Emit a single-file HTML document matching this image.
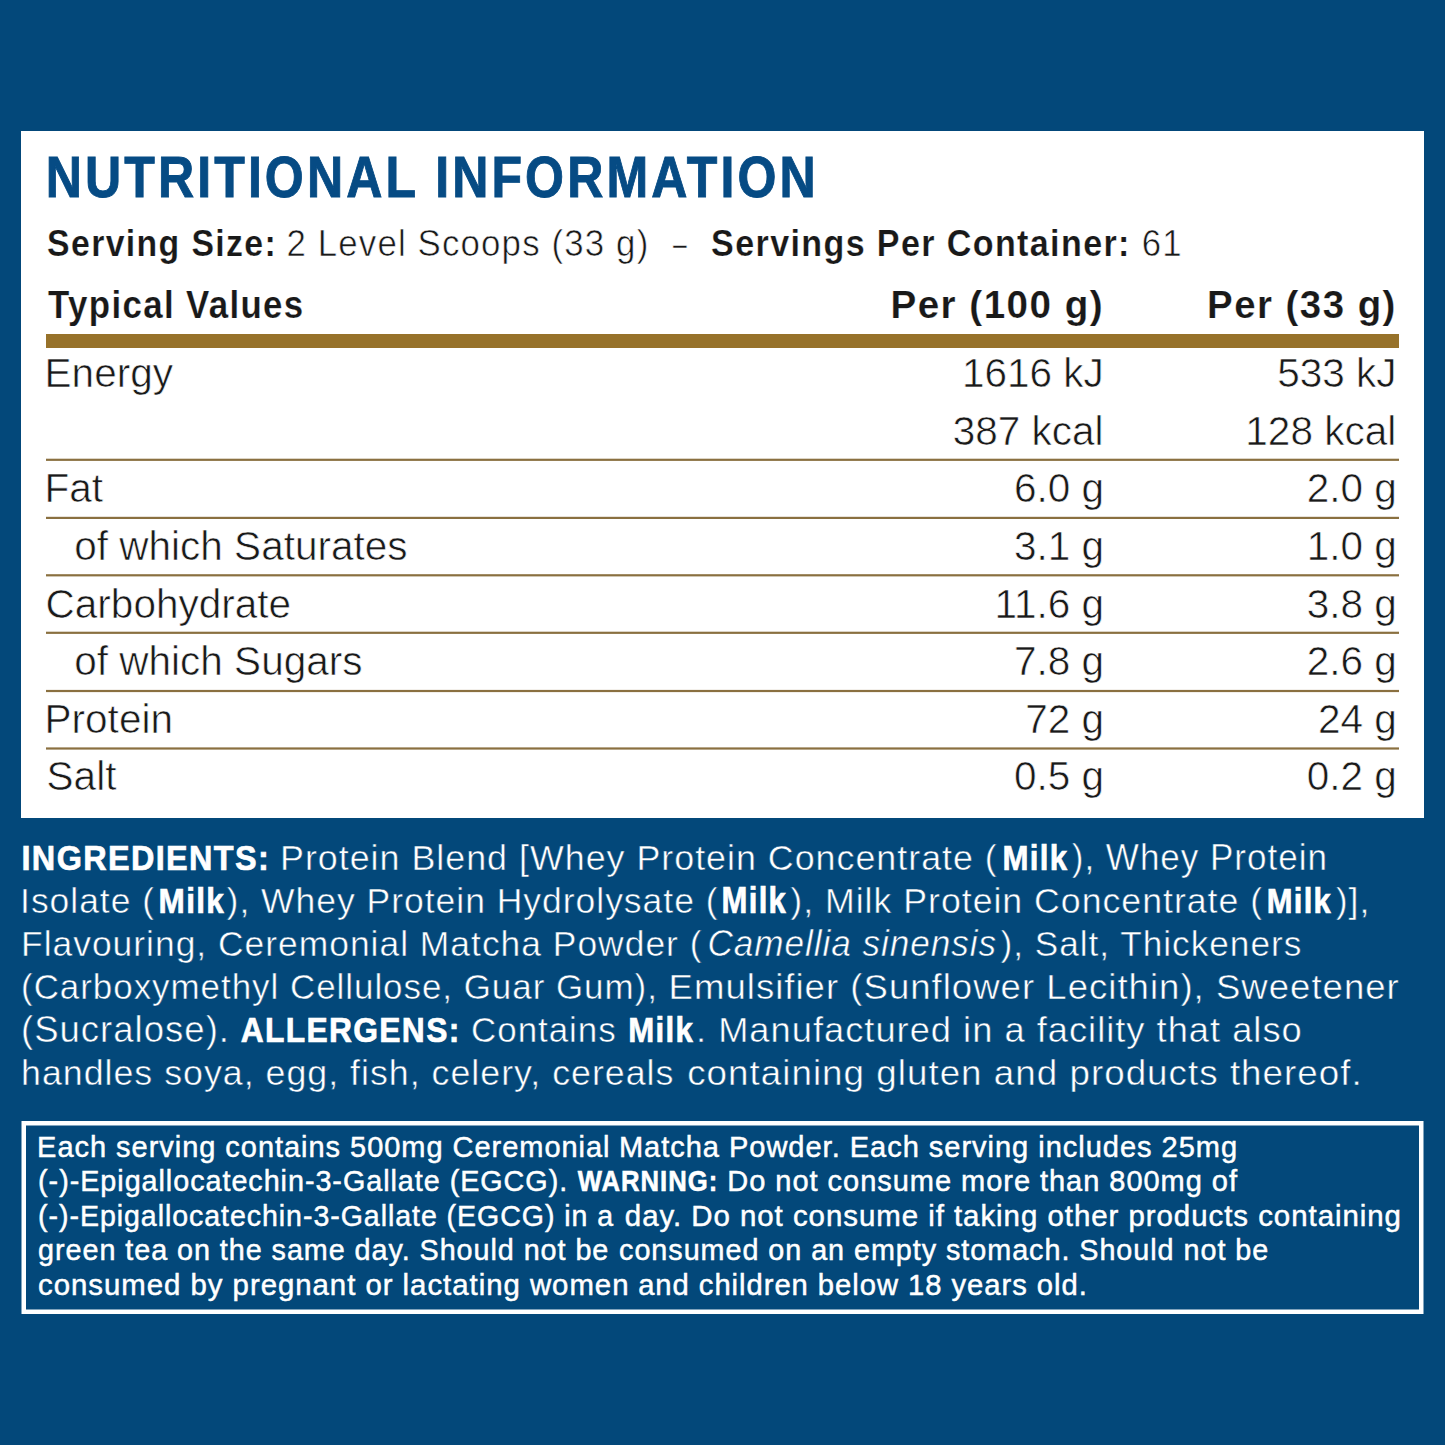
<!DOCTYPE html>
<html><head><meta charset="utf-8"><title>Nutritional Information</title>
<style>html,body{margin:0;padding:0;background:#03487a;width:1445px;height:1445px;overflow:hidden}</style>
</head><body>
<svg width="1445" height="1445" viewBox="0 0 1445 1445" style="display:block">
<rect width="1445" height="1445" fill="#03487a"/>
<rect x="21" y="131" width="1403" height="687" fill="#ffffff"/>
<rect x="46" y="334" width="1353" height="14" fill="#97722a"/>
<rect x="46" y="458.70" width="1353" height="2.2" fill="#8a7040"/>
<rect x="46" y="516.80" width="1353" height="2.2" fill="#8a7040"/>
<rect x="46" y="574.20" width="1353" height="2.2" fill="#8a7040"/>
<rect x="46" y="631.70" width="1353" height="2.2" fill="#8a7040"/>
<rect x="46" y="689.90" width="1353" height="2.2" fill="#8a7040"/>
<rect x="46" y="747.40" width="1353" height="2.2" fill="#8a7040"/>
<rect x="23.75" y="1123.25" width="1397.5" height="188.5" fill="none" stroke="#ffffff" stroke-width="4.5"/>
<g font-family="'Liberation Sans', sans-serif" xml:space="preserve">
<text transform="translate(45.76 196.6) scale(0.8790 1)" font-size="57" fill="#064b84" font-weight="bold" letter-spacing="3.5" stroke="#064b84" stroke-width="0.9">NUTRITIONAL INFORMATION</text>
<text transform="translate(47.09 256.3) scale(0.9137 1)" font-size="37" fill="#191919" font-weight="bold" letter-spacing="1.5" stroke="#ffffff" stroke-width="0.2">Serving Size:</text>
<text transform="translate(286.46 256.3) scale(0.9428 1)" font-size="37" fill="#191919" letter-spacing="1.2" stroke="#ffffff" stroke-width="0.6">2 Level Scoops (33 g)</text>
<text transform="translate(673.00 256.3) scale(0.6667 1)" font-size="37" fill="#191919" stroke="#ffffff" stroke-width="0.6">–</text>
<text transform="translate(711.08 256.3) scale(0.9210 1)" font-size="37" fill="#191919" font-weight="bold" letter-spacing="1.5" stroke="#ffffff" stroke-width="0.2">Servings Per Container:</text>
<text transform="translate(1141.66 256.3) scale(0.9402 1)" font-size="37" fill="#191919" letter-spacing="1.2" stroke="#ffffff" stroke-width="0.6">61</text>
<text transform="translate(48.00 317.5) scale(0.8945 1)" font-size="39" fill="#191919" font-weight="bold" letter-spacing="1.5" stroke="#ffffff" stroke-width="0.2">Typical Values</text>
<text transform="translate(890.42 317.5) scale(0.9899 1)" font-size="39" fill="#191919" font-weight="bold" letter-spacing="1.5" stroke="#ffffff" stroke-width="0.2">Per (100 g)</text>
<text transform="translate(1207.03 317.5) scale(0.9854 1)" font-size="39" fill="#191919" font-weight="bold" letter-spacing="1.5" stroke="#ffffff" stroke-width="0.2">Per (33 g)</text>
<text transform="translate(44.60 387) scale(1.0000 1)" font-size="40.5" fill="#191919" stroke="#ffffff" stroke-width="0.6">Energy</text>
<text transform="translate(961.90 387) scale(1.0000 1)" font-size="40.5" fill="#191919" stroke="#ffffff" stroke-width="0.6">1616 kJ</text>
<text transform="translate(1277.13 387) scale(1.0000 1)" font-size="40.5" fill="#191919" stroke="#ffffff" stroke-width="0.6">533 kJ</text>
<text transform="translate(952.65 444.5) scale(1.0000 1)" font-size="40.5" fill="#191919" stroke="#ffffff" stroke-width="0.6">387 kcal</text>
<text transform="translate(1245.35 444.5) scale(1.0000 1)" font-size="40.5" fill="#191919" stroke="#ffffff" stroke-width="0.6">128 kcal</text>
<text transform="translate(44.60 502.3) scale(1.0000 1)" font-size="40.5" fill="#191919" stroke="#ffffff" stroke-width="0.6">Fat</text>
<text transform="translate(1013.95 502.3) scale(1.0000 1)" font-size="40.5" fill="#191919" stroke="#ffffff" stroke-width="0.6">6.0 g</text>
<text transform="translate(1306.65 502.3) scale(1.0000 1)" font-size="40.5" fill="#191919" stroke="#ffffff" stroke-width="0.6">2.0 g</text>
<text transform="translate(74.30 560) scale(1.0000 1)" font-size="40.5" fill="#191919" stroke="#ffffff" stroke-width="0.6">of which Saturates</text>
<text transform="translate(1013.95 560) scale(1.0000 1)" font-size="40.5" fill="#191919" stroke="#ffffff" stroke-width="0.6">3.1 g</text>
<text transform="translate(1306.65 560) scale(1.0000 1)" font-size="40.5" fill="#191919" stroke="#ffffff" stroke-width="0.6">1.0 g</text>
<text transform="translate(45.60 617.5) scale(1.0000 1)" font-size="40.5" fill="#191919" stroke="#ffffff" stroke-width="0.6">Carbohydrate</text>
<text transform="translate(994.43 617.5) scale(1.0000 1)" font-size="40.5" fill="#191919" stroke="#ffffff" stroke-width="0.6">11.6 g</text>
<text transform="translate(1306.65 617.5) scale(1.0000 1)" font-size="40.5" fill="#191919" stroke="#ffffff" stroke-width="0.6">3.8 g</text>
<text transform="translate(74.30 675) scale(1.0000 1)" font-size="40.5" fill="#191919" stroke="#ffffff" stroke-width="0.6">of which Sugars</text>
<text transform="translate(1013.95 675) scale(1.0000 1)" font-size="40.5" fill="#191919" stroke="#ffffff" stroke-width="0.6">7.8 g</text>
<text transform="translate(1306.65 675) scale(1.0000 1)" font-size="40.5" fill="#191919" stroke="#ffffff" stroke-width="0.6">2.6 g</text>
<text transform="translate(44.60 732.5) scale(1.0000 1)" font-size="40.5" fill="#191919" stroke="#ffffff" stroke-width="0.6">Protein</text>
<text transform="translate(1025.20 732.5) scale(1.0000 1)" font-size="40.5" fill="#191919" stroke="#ffffff" stroke-width="0.6">72 g</text>
<text transform="translate(1317.90 732.5) scale(1.0000 1)" font-size="40.5" fill="#191919" stroke="#ffffff" stroke-width="0.6">24 g</text>
<text transform="translate(46.60 790) scale(1.0000 1)" font-size="40.5" fill="#191919" stroke="#ffffff" stroke-width="0.6">Salt</text>
<text transform="translate(1013.95 790) scale(1.0000 1)" font-size="40.5" fill="#191919" stroke="#ffffff" stroke-width="0.6">0.5 g</text>
<text transform="translate(1306.65 790) scale(1.0000 1)" font-size="40.5" fill="#191919" stroke="#ffffff" stroke-width="0.6">0.2 g</text>
<text transform="translate(21.51 869.6) scale(0.9007 1)" font-size="36" fill="#ffffff" font-weight="bold" letter-spacing="1.5" stroke="#ffffff" stroke-width="0.7">INGREDIENTS:</text>
<text transform="translate(280.01 869.6) scale(0.9953 1)" font-size="36" fill="#ffffff" letter-spacing="1.0" stroke="#03487a" stroke-width="0.5">Protein Blend [Whey Protein Concentrate (</text>
<text transform="translate(1002.57 869.6) scale(0.8667 1)" font-size="36" fill="#ffffff" font-weight="bold" letter-spacing="1.5" stroke="#ffffff" stroke-width="0.7">Milk</text>
<text transform="translate(1071.80 869.6) scale(0.9736 1)" font-size="36" fill="#ffffff" letter-spacing="1.0" stroke="#03487a" stroke-width="0.5">), Whey Protein</text>
<text transform="translate(20.05 912.6) scale(0.9845 1)" font-size="36" fill="#ffffff" letter-spacing="1.0" stroke="#03487a" stroke-width="0.5">Isolate (</text>
<text transform="translate(158.55 912.6) scale(0.8761 1)" font-size="36" fill="#ffffff" font-weight="bold" letter-spacing="1.5" stroke="#ffffff" stroke-width="0.7">Milk</text>
<text transform="translate(226.60 912.6) scale(0.9858 1)" font-size="36" fill="#ffffff" letter-spacing="1.0" stroke="#03487a" stroke-width="0.5">), Whey Protein Hydrolysate (</text>
<text transform="translate(721.58 912.6) scale(0.8626 1)" font-size="36" fill="#ffffff" font-weight="bold" letter-spacing="1.5" stroke="#ffffff" stroke-width="0.7">Milk</text>
<text transform="translate(790.30 912.6) scale(0.9913 1)" font-size="36" fill="#ffffff" letter-spacing="1.0" stroke="#03487a" stroke-width="0.5">), Milk Protein Concentrate (</text>
<text transform="translate(1266.78 912.6) scale(0.8599 1)" font-size="36" fill="#ffffff" font-weight="bold" letter-spacing="1.5" stroke="#ffffff" stroke-width="0.7">Milk</text>
<text transform="translate(1335.70 912.6) scale(0.9874 1)" font-size="36" fill="#ffffff" letter-spacing="1.0" stroke="#03487a" stroke-width="0.5">)],</text>
<text transform="translate(21.03 955.6) scale(0.9844 1)" font-size="36" fill="#ffffff" letter-spacing="1.0" stroke="#03487a" stroke-width="0.5">Flavouring, Ceremonial Matcha Powder (</text>
<text transform="translate(707.42 955.6) scale(0.9756 1)" font-size="36" fill="#ffffff" font-style="italic" letter-spacing="1.0" stroke="#03487a" stroke-width="0.5">Camellia sinensis</text>
<text transform="translate(1000.50 955.6) scale(0.9785 1)" font-size="36" fill="#ffffff" letter-spacing="1.0" stroke="#03487a" stroke-width="0.5">), Salt, Thickeners</text>
<text transform="translate(21.06 999) scale(0.9705 1)" font-size="36" fill="#ffffff" letter-spacing="1.0" stroke="#03487a" stroke-width="0.5">(Carboxymethyl Cellulose, Guar Gum),</text>
<text transform="translate(668.57 999) scale(1.0155 1)" font-size="36" fill="#ffffff" letter-spacing="1.0" stroke="#03487a" stroke-width="0.5">Emulsifier (Sunflower Lecithin), Sweetener</text>
<text transform="translate(20.97 1042) scale(1.0147 1)" font-size="36" fill="#ffffff" letter-spacing="1.0" stroke="#03487a" stroke-width="0.5">(Sucralose).</text>
<text transform="translate(240.71 1042) scale(0.8833 1)" font-size="36" fill="#ffffff" font-weight="bold" letter-spacing="1.5" stroke="#ffffff" stroke-width="0.7">ALLERGENS:</text>
<text transform="translate(471.03 1042) scale(0.9709 1)" font-size="36" fill="#ffffff" letter-spacing="1.0" stroke="#03487a" stroke-width="0.5">Contains</text>
<text transform="translate(628.27 1042) scale(0.8667 1)" font-size="36" fill="#ffffff" font-weight="bold" letter-spacing="1.5" stroke="#ffffff" stroke-width="0.7">Milk</text>
<text transform="translate(695.98 1042) scale(1.0079 1)" font-size="36" fill="#ffffff" letter-spacing="1.0" stroke="#03487a" stroke-width="0.5">. Manufactured in a facility that also</text>
<text transform="translate(21.01 1085) scale(0.9939 1)" font-size="36" fill="#ffffff" letter-spacing="1.0" stroke="#03487a" stroke-width="0.5">handles soya, egg, fish, celery, cereals</text>
<text transform="translate(687.18 1085) scale(1.0219 1)" font-size="36" fill="#ffffff" letter-spacing="1.0" stroke="#03487a" stroke-width="0.5">containing gluten and products thereof.</text>
<text transform="translate(37.11 1156.5) scale(0.9665 1)" font-size="30" fill="#ffffff" letter-spacing="1.0" stroke="#ffffff" stroke-width="0.5">Each serving contains 500mg Ceremonial</text>
<text transform="translate(618.91 1156.5) scale(0.9684 1)" font-size="30" fill="#ffffff" letter-spacing="1.0" stroke="#ffffff" stroke-width="0.5">Matcha Powder. Each serving includes 25mg</text>
<text transform="translate(38.08 1191) scale(0.9585 1)" font-size="30" fill="#ffffff" letter-spacing="1.0" stroke="#ffffff" stroke-width="0.5">(-)-Epigallocatechin-3-Gallate (EGCG).</text>
<text transform="translate(577.66 1191) scale(0.8544 1)" font-size="30" fill="#ffffff" font-weight="bold" letter-spacing="1.2" stroke="#ffffff" stroke-width="0.6">WARNING:</text>
<text transform="translate(727.31 1191) scale(0.9669 1)" font-size="30" fill="#ffffff" letter-spacing="1.0" stroke="#ffffff" stroke-width="0.5">Do not consume more than 800mg of</text>
<text transform="translate(38.09 1225.5) scale(0.9518 1)" font-size="30" fill="#ffffff" letter-spacing="1.0" stroke="#ffffff" stroke-width="0.5">(-)-Epigallocatechin-3-Gallate (EGCG) in a</text>
<text transform="translate(624.86 1225.5) scale(0.9802 1)" font-size="30" fill="#ffffff" letter-spacing="1.0" stroke="#ffffff" stroke-width="0.5">day. Do not consume if taking other products containing</text>
<text transform="translate(38.08 1260) scale(0.9581 1)" font-size="30" fill="#ffffff" letter-spacing="1.0" stroke="#ffffff" stroke-width="0.5">green tea on the same day. Should not be</text>
<text transform="translate(619.08 1260) scale(0.9586 1)" font-size="30" fill="#ffffff" letter-spacing="1.0" stroke="#ffffff" stroke-width="0.5">consumed on an empty stomach. Should not be</text>
<text transform="translate(38.07 1295) scale(0.9790 1)" font-size="30" fill="#ffffff" letter-spacing="1.0" stroke="#ffffff" stroke-width="0.5">consumed by pregnant or lactating women</text>
<text transform="translate(638.17 1295) scale(0.9731 1)" font-size="30" fill="#ffffff" letter-spacing="1.0" stroke="#ffffff" stroke-width="0.5">and children below 18 years old.</text>
</g>
</svg>
</body></html>
